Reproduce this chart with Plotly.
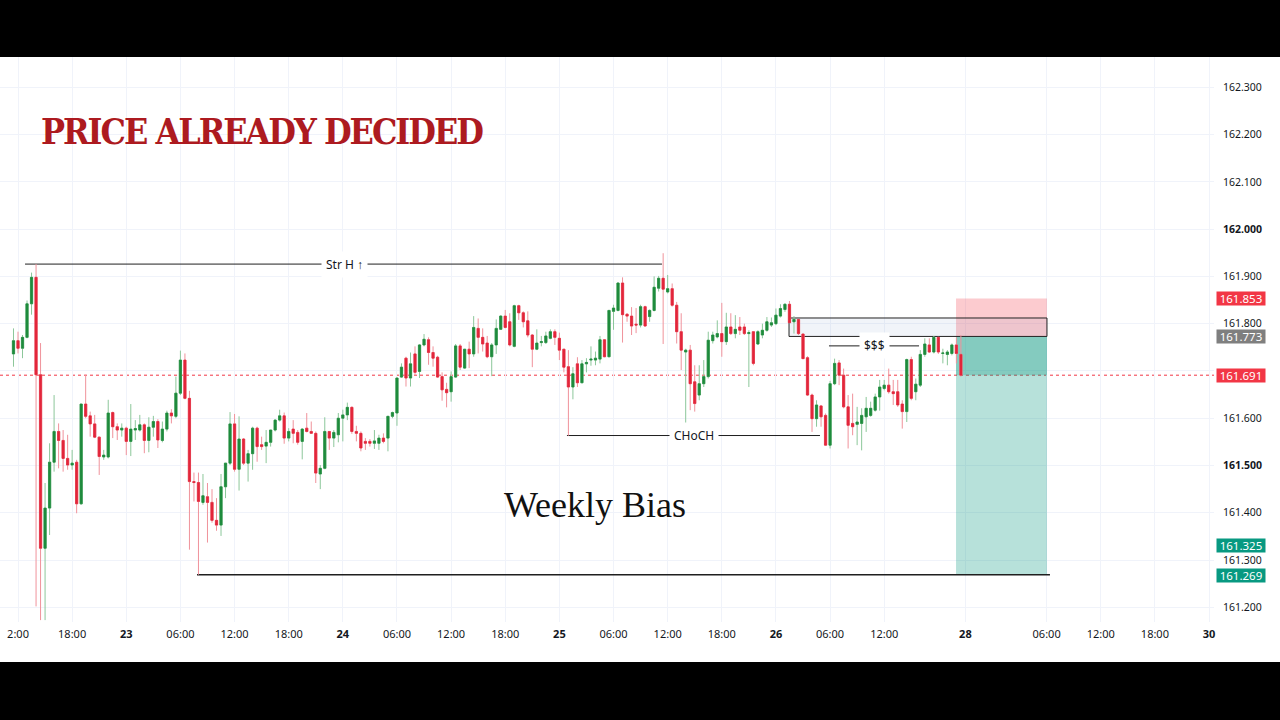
import plotly.graph_objects as go

# ---------------- data ----------------
OPEN = [161.736,161.764,161.748,161.771,161.842,161.898,161.692,161.325,161.410,161.507,
        161.572,161.553,161.515,161.501,161.507,161.419,161.630,161.605,161.588,161.560,
        161.518,161.518,161.612,161.582,161.575,161.579,161.551,161.575,161.575,161.586,
        161.553,161.581,161.593,161.553,161.577,161.611,161.604,161.653,161.723,161.642,
        161.466,161.464,161.422,161.434,161.422,161.384,161.374,161.455,161.505,161.588,
        161.492,161.556,161.505,161.525,161.579,161.544,161.541,161.549,161.575,161.596,
        161.605,161.558,161.577,161.570,161.551,161.579,161.572,161.568,161.482,161.494,
        161.572,161.558,161.565,161.600,161.607,161.623,161.572,161.568,161.551,161.551,
        161.547,161.547,161.558,161.558,161.604,161.611,161.687,161.727,161.685,161.736,
        161.699,161.755,161.766,161.739,161.729,161.688,161.661,161.656,161.687,161.753,
        161.706,161.746,161.736,161.790,161.771,161.759,161.730,161.755,161.788,161.816,
        161.804,161.752,161.838,161.823,161.806,161.776,161.746,161.760,161.760,161.769,
        161.783,161.769,161.746,161.709,161.666,161.715,161.675,161.715,161.723,161.723,
        161.725,161.766,161.730,161.826,161.828,161.886,161.820,161.816,161.799,161.797,
        161.836,161.815,161.828,161.875,161.896,161.867,161.874,161.839,161.783,161.740,
        161.744,161.677,161.649,161.673,161.688,161.764,161.772,161.779,161.762,161.793,
        161.779,161.793,161.793,161.779,161.783,161.757,161.776,161.786,161.797,161.800,
        161.816,161.830,161.841,161.804,161.809,161.778,161.728,161.649,161.599,161.626,
        161.606,161.543,161.673,161.717,161.691,161.624,161.589,161.587,161.589,161.603,
        161.606,161.617,161.645,161.663,161.670,161.656,161.656,161.630,161.614,161.724,
        161.656,161.670,161.735,161.755,161.740,161.771,161.737,161.735,161.737,161.755,
        161.735]
HIGH = [161.790,161.783,161.776,161.849,161.908,161.926,161.759,161.463,161.547,161.649,
        161.589,161.575,161.565,161.533,161.512,161.630,161.692,161.614,161.607,161.561,
        161.533,161.639,161.614,161.589,161.589,161.582,161.630,161.596,161.607,161.589,
        161.602,161.605,161.598,161.593,161.616,161.619,161.688,161.743,161.737,161.658,
        161.485,161.485,161.482,161.463,161.450,161.431,161.482,161.505,161.613,161.609,
        161.604,161.558,161.533,161.582,161.582,161.561,161.575,161.575,161.598,161.618,
        161.612,161.579,161.596,161.575,161.579,161.611,161.593,161.572,161.501,161.602,
        161.572,161.575,161.611,161.618,161.633,161.625,161.584,161.572,161.558,161.556,
        161.575,161.565,161.568,161.605,161.614,161.686,161.716,161.730,161.739,161.752,
        161.757,161.778,161.771,161.752,161.732,161.697,161.675,161.699,161.757,161.757,
        161.746,161.762,161.816,161.811,161.790,161.774,161.759,161.809,161.818,161.829,
        161.822,161.840,161.840,161.826,161.826,161.778,161.788,161.774,161.783,161.788,
        161.788,161.781,161.746,161.744,161.708,161.729,161.723,161.727,161.752,161.741,
        161.774,161.767,161.829,161.840,161.887,161.898,161.822,161.835,161.833,161.840,
        161.838,161.830,161.900,161.901,161.949,161.903,161.885,161.846,161.822,161.747,
        161.755,161.712,161.712,161.723,161.783,161.783,161.807,161.844,161.823,161.822,
        161.818,161.814,161.800,161.786,161.783,161.786,161.800,161.814,161.813,161.832,
        161.841,161.843,161.848,161.816,161.809,161.779,161.731,161.652,161.638,161.628,
        161.610,161.679,161.726,161.723,161.705,161.649,161.652,161.624,161.621,161.645,
        161.635,161.652,161.681,161.681,161.705,161.681,161.681,161.638,161.726,161.730,
        161.684,161.744,161.769,161.769,161.774,161.772,161.747,161.744,161.758,161.771,
        161.776]
LOW = [161.709,161.737,161.727,161.769,161.819,161.202,161.173,161.173,161.353,161.487,
       161.494,161.487,161.491,161.491,161.399,161.417,161.600,161.561,161.558,161.480,
       161.512,161.515,161.558,161.554,161.561,161.522,161.520,161.554,161.572,161.526,
       161.528,161.561,161.537,161.549,161.572,161.589,161.600,161.649,161.640,161.322,
       161.424,161.269,161.417,161.337,161.379,161.362,161.351,161.431,161.501,161.487,
       161.447,161.501,161.466,161.491,161.508,161.533,161.505,161.540,161.572,161.593,
       161.546,161.551,161.547,161.544,161.513,161.570,161.567,161.463,161.450,161.492,
       161.533,161.539,161.549,161.551,161.596,161.567,161.551,161.530,161.533,161.540,
       161.535,161.533,161.547,161.530,161.600,161.584,161.685,161.667,161.667,161.691,
       161.685,161.752,161.713,161.709,161.685,161.637,161.623,161.635,161.685,161.702,
       161.704,161.706,161.730,161.737,161.741,161.727,161.689,161.736,161.787,161.790,
       161.752,161.750,161.808,161.792,161.771,161.708,161.744,161.752,161.757,161.767,
       161.755,161.723,161.697,161.563,161.640,161.666,161.674,161.697,161.711,161.712,
       161.716,161.729,161.729,161.787,161.826,161.760,161.804,161.776,161.780,161.792,
       161.794,161.804,161.826,161.868,161.757,161.864,161.836,161.758,161.702,161.564,
       161.617,161.614,161.638,161.666,161.684,161.758,161.769,161.730,161.755,161.776,
       161.769,161.776,161.776,161.666,161.712,161.755,161.769,161.783,161.793,161.797,
       161.813,161.825,161.802,161.779,161.776,161.726,161.647,161.571,161.582,161.582,
       161.542,161.536,161.670,161.670,161.621,161.536,161.564,161.543,161.532,161.571,
       161.603,161.614,161.616,161.659,161.652,161.628,161.624,161.578,161.592,161.638,
       161.638,161.666,161.730,161.738,161.737,161.736,161.716,161.712,161.733,161.716,
       161.688]
CLOSE = [161.764,161.748,161.771,161.842,161.898,161.692,161.325,161.410,161.507,161.572,
         161.553,161.515,161.501,161.505,161.419,161.630,161.604,161.588,161.560,161.519,
         161.522,161.611,161.582,161.575,161.579,161.551,161.577,161.578,161.586,161.553,
         161.581,161.593,161.554,161.577,161.611,161.605,161.653,161.723,161.642,161.466,
         161.464,161.424,161.436,161.422,161.384,161.374,161.455,161.505,161.588,161.492,
         161.556,161.505,161.525,161.579,161.540,161.540,161.549,161.575,161.596,161.605,
         161.558,161.572,161.568,161.549,161.577,161.572,161.568,161.484,161.494,161.572,
         161.558,161.570,161.600,161.607,161.623,161.572,161.568,161.537,161.547,161.547,
         161.552,161.558,161.551,161.604,161.612,161.685,161.708,161.685,161.715,161.697,
         161.755,161.767,161.739,161.727,161.687,161.660,161.654,161.688,161.753,161.708,
         161.746,161.736,161.792,161.771,161.757,161.730,161.755,161.790,161.816,161.792,
         161.755,161.838,161.823,161.804,161.776,161.746,161.759,161.762,161.774,161.783,
         161.771,161.744,161.708,161.666,161.694,161.675,161.715,161.718,161.725,161.727,
         161.766,161.730,161.828,161.833,161.886,161.819,161.816,161.795,161.797,161.836,
         161.795,161.828,161.877,161.896,161.873,161.874,161.839,161.783,161.744,161.744,
         161.673,161.631,161.673,161.688,161.765,161.776,161.779,161.762,161.793,161.779,
         161.788,161.786,161.779,161.781,161.716,161.783,161.786,161.804,161.802,161.818,
         161.832,161.841,161.802,161.809,161.779,161.726,161.649,161.599,161.628,161.603,
         161.543,161.673,161.716,161.691,161.624,161.585,161.582,161.592,161.606,161.621,
         161.621,161.645,161.666,161.670,161.656,161.652,161.628,161.614,161.724,161.642,
         161.672,161.735,161.757,161.740,161.771,161.740,161.738,161.740,161.755,161.737,
         161.691]

# bar times in trading hours (30-minute bars, first bar 22nd 11:30)
BAR_HOURS = [-0.5 + 0.5 * i for i in range(len(OPEN))]

TIME_TICKS = [0, 6, 12, 18, 24, 30, 36, 42, 48, 54, 60, 66, 72, 78, 84, 90, 96, 105, 114, 120, 126, 132]
TIME_LABELS = ["2:00", "18:00", "<b>23</b>", "06:00", "12:00", "18:00", "<b>24</b>", "06:00", "12:00",
               "18:00", "<b>25</b>", "06:00", "12:00", "18:00", "<b>26</b>", "06:00", "12:00",
               "<b>28</b>", "06:00", "12:00", "18:00", "<b>30</b>"]

PRICE_TICKS = [161.2, 161.3, 161.4, 161.5, 161.6, 161.7, 161.8, 161.9, 162.0, 162.1, 162.2, 162.3]
# 161.700 is hidden behind the last-price label in the reference
PRICE_LABELS = ["161.200", "161.300", "161.400", "<b>161.500</b>", "161.600", "", "161.800",
                "161.900", "<b>162.000</b>", "162.100", "162.200", "162.300"]

# levels / drawings
STR_H = 161.926
CHOCH = 161.5634
SSS = 161.753
OB_TOP = 161.812
STOP = 161.853
ENTRY = 161.773
LAST = 161.691
TP_LABEL = 161.325
TARGET = 161.269

STR_H_SPAN = (0.78, 71.37)
CHOCH_SPAN = (60.84, 88.88)
SSS_SPAN = (89.88, 99.86)
TARGET_SPAN = (19.84, 114.37)
OB_SPAN = (85.45, 114.04)
POS_SPAN = (103.96, 114.04)

GREEN_BODY, GREEN_WICK = "#1f8b3d", "#8cc79a"
RED_BODY, RED_WICK = "#e3263b", "#f0929b"

# ---------------- figure ----------------
fig = go.Figure()

# wicks (light)
fig.add_trace(go.Candlestick(
    x=BAR_HOURS, open=OPEN, high=HIGH, low=LOW, close=CLOSE,
    increasing=dict(line=dict(color=GREEN_WICK, width=1), fillcolor=GREEN_WICK),
    decreasing=dict(line=dict(color=RED_WICK, width=1), fillcolor=RED_WICK),
    hoverinfo="skip", showlegend=False))
# bodies (solid)
body_hi = [max(o, c) for o, c in zip(OPEN, CLOSE)]
body_lo = [min(o, c) for o, c in zip(OPEN, CLOSE)]
fig.add_trace(go.Candlestick(
    x=BAR_HOURS, open=OPEN, high=body_hi, low=body_lo, close=CLOSE,
    increasing=dict(line=dict(color=GREEN_BODY, width=0.6), fillcolor=GREEN_BODY),
    decreasing=dict(line=dict(color=RED_BODY, width=0.6), fillcolor=RED_BODY),
    hoverinfo="skip", showlegend=False))

shapes = []
# position tool
shapes.append(dict(type="rect", xref="x", yref="y", x0=POS_SPAN[0], x1=POS_SPAN[1], y0=ENTRY, y1=STOP,
                   fillcolor="rgba(242,54,69,0.26)", line=dict(width=0), layer="between"))
shapes.append(dict(type="rect", xref="x", yref="y", x0=POS_SPAN[0], x1=POS_SPAN[1], y0=TARGET, y1=ENTRY,
                   fillcolor="rgba(8,153,129,0.29)", line=dict(width=0), layer="between"))
shapes.append(dict(type="rect", xref="x", yref="y", x0=POS_SPAN[0], x1=POS_SPAN[1], y0=LAST, y1=ENTRY,
                   fillcolor="rgba(8,153,129,0.29)", line=dict(width=0), layer="between"))
# order block
shapes.append(dict(type="rect", xref="x", yref="y", x0=OB_SPAN[0], x1=OB_SPAN[1], y0=ENTRY, y1=OB_TOP,
                   fillcolor="rgba(120,150,200,0.10)", line=dict(color="#222222", width=1), layer="between"))
# structure lines
for (a, b), lvl, w in [(STR_H_SPAN, STR_H, 1), (CHOCH_SPAN, CHOCH, 1), (SSS_SPAN, SSS, 1),
                       (TARGET_SPAN, TARGET, 1.6)]:
    shapes.append(dict(type="line", xref="x", yref="y", x0=a, x1=b, y0=lvl, y1=lvl,
                       line=dict(color="#1f1f1f", width=w), layer="between"))
# current price dotted line
shapes.append(dict(type="line", xref="paper", yref="y", x0=0, x1=1, y0=LAST, y1=LAST,
                   line=dict(color="#f23645", width=1, dash="dot"), layer="between"))
# black frame bars (video crop)
shapes.append(dict(type="rect", xref="paper", yref="paper", x0=-0.01, x1=1.07, y0=1.0, y1=1.12,
                   fillcolor="#000000", line=dict(width=0), layer="above"))
shapes.append(dict(type="rect", xref="paper", yref="paper", x0=-0.01, x1=1.07, y0=-0.0708, y1=-0.19,
                   fillcolor="#000000", line=dict(width=0), layer="above"))

annotations = []
lab_font = dict(family="Noto Sans, Open Sans, sans-serif", size=12, color="#131722")
for txt, xpos, lvl in [("Str H ↑", 36.13, STR_H), ("CHoCH", 74.92, CHOCH), ("$$$", 94.87, SSS)]:
    annotations.append(dict(x=xpos, y=lvl, xref="x", yref="y", text=txt, showarrow=False,
                            font=lab_font, bgcolor="#ffffff", borderpad=4, xanchor="center", yanchor="middle"))

annotations.append(dict(x=0.2162, y=0.869, xref="paper", yref="paper",
                        text='<span style="letter-spacing:-2px">PRICE ALREADY DECIDED</span>',
                        showarrow=False, xanchor="center", yanchor="middle",
                        font=dict(family="DejaVu Serif Condensed, Liberation Serif, serif", size=35.5,
                                  color="#ad1a20", weight="bold")))
annotations.append(dict(x=63.95, y=161.4165, xref="x", yref="y", text="Weekly Bias", showarrow=False,
                        xanchor="center", yanchor="middle",
                        font=dict(family="Liberation Serif, serif", size=36, color="#111111")))

# price-scale labels
for lvl, col, ys in [(STOP, "#f23645", 0), (ENTRY, "#7f7f7f", 0), (LAST, "#f23645", 0),
                     (TP_LABEL, "#089981", 3), (TARGET, "#089981", -1)]:
    annotations.append(dict(x=1.0222, y=lvl, xref="paper", yref="y", text=f"{lvl:.3f}", showarrow=False,
                            xanchor="center", yanchor="middle", bgcolor=col, width=46, height=11,
                            borderpad=1, yshift=ys,
                            font=dict(family="Noto Sans, sans-serif", size=11.5, color="#ffffff")))

fig.update_layout(
    width=1280, height=720,
    margin=dict(l=0, r=66, t=57, b=98),
    paper_bgcolor="#ffffff", plot_bgcolor="#ffffff",
    boxmode="overlay",
    shapes=shapes, annotations=annotations,
    showlegend=False,
    xaxis=dict(range=[-1.995, 132.55], tickmode="array", tickvals=TIME_TICKS, ticktext=TIME_LABELS,
               showgrid=True, gridcolor="#f0f3fa", gridwidth=1, zeroline=False, showline=False,
               ticks="", ticklabelstandoff=4, rangeslider=dict(visible=False),
               tickfont=dict(family="Noto Sans, sans-serif", size=11, color="#131722")),
    yaxis=dict(range=[161.169, 162.364], side="right", tickmode="array", tickvals=PRICE_TICKS,
               ticktext=PRICE_LABELS, showgrid=True, gridcolor="#f0f3fa", gridwidth=1, zeroline=False,
               showline=False, ticks="", ticklabelstandoff=8,
               tickfont=dict(family="Noto Sans, sans-serif", size=10.5, color="#131722")),
)

fig.write_html("out.html", config={"displayModeBar": False},
               post_script="document.body.style.margin='0';document.body.style.overflow='hidden';")
